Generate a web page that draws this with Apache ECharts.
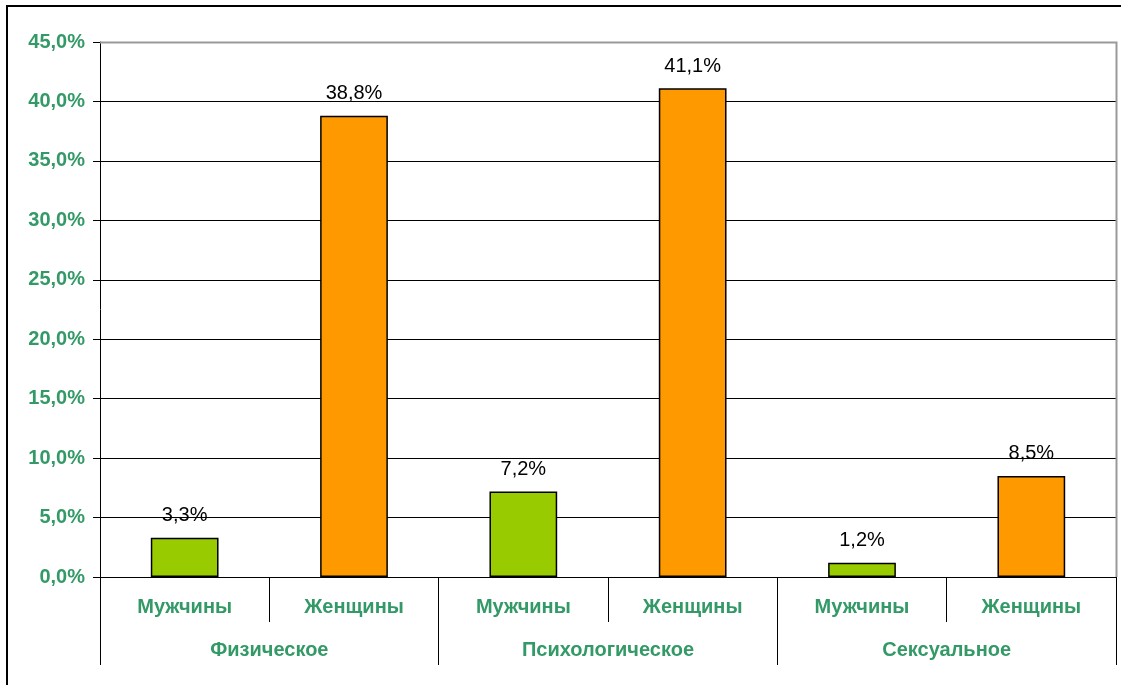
<!DOCTYPE html>
<html><head><meta charset="utf-8">
<script src="https://cdn.jsdelivr.net/npm/echarts@6/dist/echarts.min.js"></script>
<style>html,body{margin:0;padding:0;background:#fff}#c{width:1121px;height:685px}</style>
</head><body><div id="c"></div>
<script>
var genders = ['Мужчины','Женщины','Мужчины','Женщины','Мужчины','Женщины'];
var groups = ['Физическое','Психологическое','Сексуальное'];
var values = [3.3, 38.8, 7.2, 41.1, 1.2, 8.5];
var yTicks = {min:0, max:45, interval:5};
var green = '#339966';
var chart = echarts.init(document.getElementById('c'));
function fmt(v){ return v.toFixed(1).replace('.', ',') + '%'; }
chart.setOption({
  backgroundColor:'#fff',
  animation:false,
  grid:{left:100, right:5, top:42, bottom:108},
  xAxis:[{
    type:'category', data:genders, position:'bottom',
    axisLine:{lineStyle:{color:'#000', width:1}},
    axisTick:{show:true, length:45, interval:0, lineStyle:{color:'#000'}},
    axisLabel:{interval:0, margin:20, color:green, fontFamily:'Liberation Sans, Arial', fontWeight:'bold', fontSize:20}
  },{
    type:'category', data:groups, position:'bottom', gridIndex:0,
    axisLine:{show:false},
    axisTick:{show:true, length:88, interval:0, lineStyle:{color:'#000'}},
    axisLabel:{interval:0, margin:63, color:green, fontFamily:'Liberation Sans, Arial', fontWeight:'bold', fontSize:20}
  }],
  yAxis:{
    type:'value', min:yTicks.min, max:yTicks.max, interval:yTicks.interval,
    axisLine:{show:true, lineStyle:{color:'#000'}},
    axisTick:{show:true, length:7, lineStyle:{color:'#000'}},
    splitLine:{lineStyle:{color:'#000', width:1}},
    axisLabel:{margin:15, formatter:fmt, color:green, fontFamily:'Liberation Sans, Arial', fontWeight:'bold', fontSize:20}
  },
  series:[{
    type:'bar', xAxisIndex:0, data:values, barWidth:'40%',
    itemStyle:{borderColor:'#000', borderWidth:1.5,
      color:function(p){ return p.dataIndex % 2 === 0 ? '#99CC00' : '#FF9900'; }},
    label:{show:true, position:'top', distance:12, formatter:function(p){return fmt(p.value);},
      color:'#000', fontFamily:'Liberation Sans, Arial', fontSize:20}
  }],
  graphic:[
    {type:'rect', z:100, shape:{x:7, y:6, width:1130, height:700}, style:{fill:'none', stroke:'#000', lineWidth:2}},
    {type:'polyline', z:100, shape:{points:[[100,42.5],[1116.5,42.5],[1116.5,577]]}, style:{fill:'none', stroke:'#999', lineWidth:2}}
  ]
});
</script></body></html>
